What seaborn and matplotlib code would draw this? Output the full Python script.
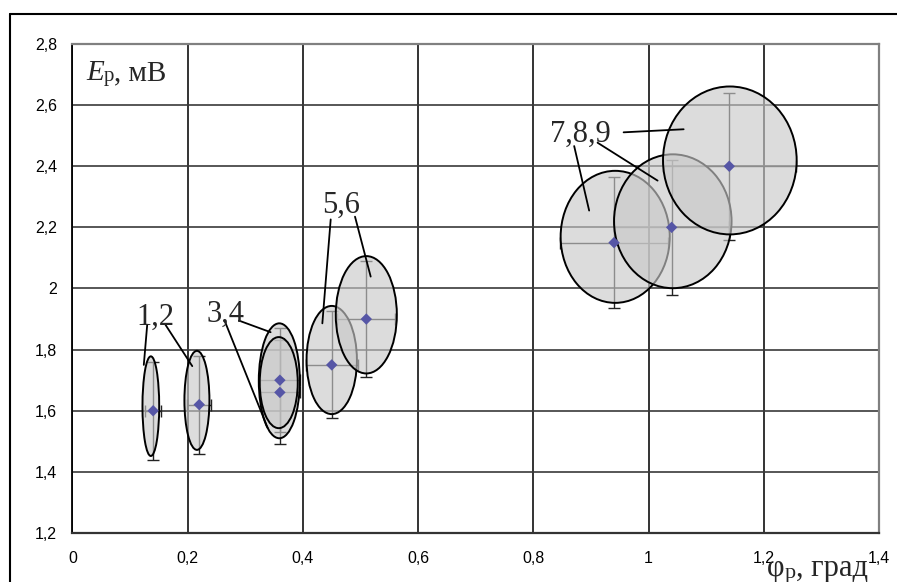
import matplotlib
matplotlib.use("Agg")
import matplotlib.pyplot as plt
from matplotlib.patches import Ellipse
from matplotlib.lines import Line2D
from matplotlib.text import Annotation
import seaborn as sns

# центры точек и погрешности
phi = [0.14, 0.22, 0.36, 0.36, 0.45, 0.51, 0.94, 1.04, 1.14]
emf = [1.60, 1.62, 1.70, 1.66, 1.75, 1.90, 2.15, 2.20, 2.40]
phi_err = [0.014, 0.021, 0.035, 0.035, 0.045, 0.05, 0.094, 0.10, 0.115]
emf_err = [0.16, 0.16, 0.17, 0.17, 0.175, 0.19, 0.215, 0.22, 0.24]

# эллипсы рассеяния: центр и полуоси
ell_x = [0.136, 0.216, 0.359, 0.358, 0.450, 0.510, 0.942, 1.042, 1.141]
ell_y = [1.615, 1.634, 1.698, 1.692, 1.766, 1.914, 2.169, 2.220, 2.419]
ell_a = [0.0145, 0.0217, 0.0356, 0.033, 0.0437, 0.053, 0.0947, 0.102, 0.116]
ell_b = [0.163, 0.162, 0.188, 0.149, 0.177, 0.192, 0.216, 0.219, 0.242]

x_ticks = [0, 0.2, 0.4, 0.6, 0.8, 1.0, 1.2, 1.4]
x_labels = ["0", "0,2", "0,4", "0,6", "0,8", "1", "1,2", "1,4"]
y_ticks = [1.2, 1.4, 1.6, 1.8, 2.0, 2.2, 2.4, 2.6, 2.8]
y_labels = ["1,2", "1,4", "1,6", "1,8", "2", "2,2", "2,4", "2,6", "2,8"]

# подписи групп и выноски (начало -> конец)
groups = ["1,2", "3,4", "5,6", "7,8,9"]
group_xy = [(0.1438, 1.881), (0.2654, 1.891), (0.466, 2.246), (0.8824, 2.480)]
leaders = [
    [((0.1297, 1.881), (0.1238, 1.750)), ((0.1615, 1.881), (0.2079, 1.746))],
    [((0.264, 1.895), (0.3387, 1.544)), ((0.2889, 1.895), (0.3439, 1.857))],
    [((0.4482, 2.226), (0.4337, 1.886)), ((0.4904, 2.235), (0.5176, 2.039))],
    [((0.8708, 2.466), (0.8968, 2.255)), ((0.9114, 2.477), (1.0156, 2.353)),
     ((0.9566, 2.511), (1.0608, 2.521))],
]

sns.set_style("white")
plt.rcParams["font.family"] = ["Liberation Sans", "DejaVu Sans"]
serif = ["Liberation Serif", "DejaVu Serif"]

fig = plt.figure(figsize=(8.97, 5.82), dpi=100)
ax = fig.add_axes([0.0808, 0.0842, 0.8992, 0.8402])

ax.errorbar(phi, emf, xerr=phi_err, yerr=emf_err, fmt="none", ecolor="#222222",
            elinewidth=1.0, capsize=4.5, capthick=1.0, zorder=2)

for i in range(len(ell_x)):
    e = Ellipse((ell_x[i], ell_y[i]), 2 * ell_a[i], 2 * ell_b[i],
                facecolor=(0.79, 0.79, 0.79, 0.64), edgecolor="black",
                linewidth=1.4, zorder=3 + i)
    ax.add_patch(e)

sns.scatterplot(x=phi, y=emf, marker="D", s=34, color="#5656a6",
                edgecolor="none", zorder=20, ax=ax)

for name, (tx, ty), lines in zip(groups, group_xy, leaders):
    ax.text(tx, ty, name, ha="center", va="baseline", fontsize=22,
            family=serif, zorder=30)
    for (x0, y0), (x1, y1) in lines:
        ax.annotate("", xy=(x1, y1), xytext=(x0, y0),
                    arrowprops=dict(arrowstyle="-", color="black", lw=1.3,
                                    shrinkA=0, shrinkB=0), zorder=25)

ax.set_xlim(0, 1.4)
ax.set_ylim(1.2, 2.8)
ax.set_xticks(x_ticks)
ax.set_xticklabels(x_labels)
ax.set_yticks(y_ticks)
ax.set_yticklabels(y_labels)
ax.tick_params(axis="both", direction="out", length=5, width=1.0,
               color="#333333", labelsize=11.5, labelcolor="black")
ax.tick_params(axis="x", pad=8)
ax.tick_params(axis="y", pad=6)
ax.set_axisbelow(True)
ax.xaxis.grid(True, color="#111111", linewidth=1.2)
ax.yaxis.grid(True, color="#3a3a3a", linewidth=1.2)
for side in ["top", "right"]:
    ax.spines[side].set_color("#808080")
    ax.spines[side].set_linewidth(1.6)
ax.spines["left"].set_color("black")
ax.spines["left"].set_linewidth(1.3)
ax.spines["bottom"].set_color("#333333")
ax.spines["bottom"].set_linewidth(1.6)

# подпись оси Y
t1 = ax.text(0.017, 0.926, "E", transform=ax.transAxes, fontsize=21,
             family=serif, style="italic", va="baseline", zorder=30)
t2 = ax.annotate("р", xy=(1, 0), xycoords=t1, fontsize=15, family=serif,
                 va="bottom", zorder=30)
ax.annotate(", мВ", xy=(1, 0), xycoords=t2, fontsize=21, family=serif,
            va="bottom", zorder=30)

# подпись оси X (внизу справа, у самого края)
t3 = fig.text(0.855, 0.011, "φ", fontsize=22, family=serif, va="baseline")
t4 = Annotation("р", xy=(1, 0), xycoords=t3, fontsize=16, family=serif,
                va="bottom")
fig.add_artist(t4)
t5 = Annotation(", град", xy=(1, 0), xycoords=t4, fontsize=22, family=serif,
                va="bottom")
fig.add_artist(t5)

# внешняя рамка
fx, fy = 10 / 897, 1 - 14 / 582
fig.add_artist(Line2D([fx, fx], [0, fy], transform=fig.transFigure,
                      color="black", linewidth=1.5))
fig.add_artist(Line2D([fx, 1], [fy, fy], transform=fig.transFigure,
                      color="black", linewidth=1.5))

fig.savefig("out.png", dpi=100)
